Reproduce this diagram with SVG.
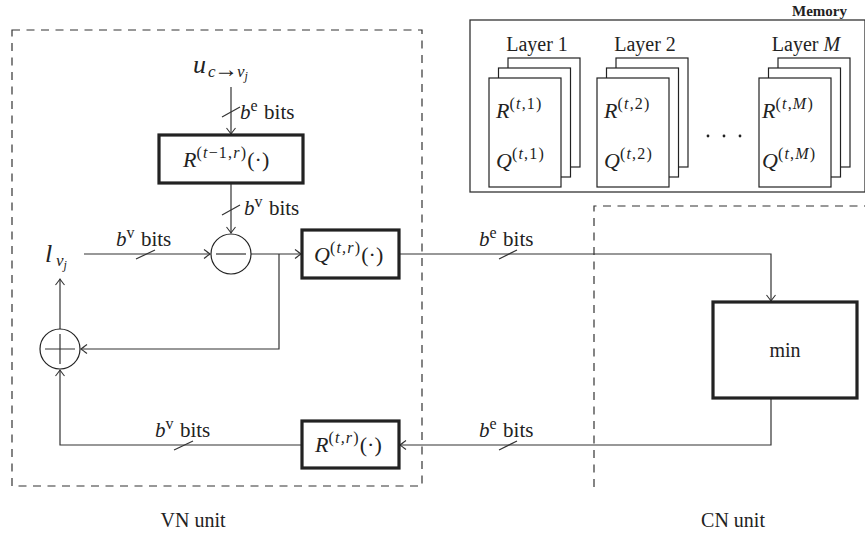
<svg xmlns="http://www.w3.org/2000/svg" width="865" height="541" viewBox="0 0 865 541">
<defs>
<marker id="arr" markerUnits="userSpaceOnUse" markerWidth="12" markerHeight="12" refX="0" refY="0" viewBox="-8 -6 10 12" orient="auto">
<path d="M-6,-4.5 Q-1.5,-1 0,0 Q-1.5,1 -6,4.5" fill="none" stroke="#333" stroke-width="1.1"/>
</marker>
</defs>
<style>
text{font-family:"Liberation Serif","Times New Roman",serif;fill:#222;font-size:20px}
.m{font-size:22px}
.i{font-style:italic}
.s{font-size:16px;letter-spacing:1.2px}
.sub{font-size:17px}
.ss{font-size:12px}
.dash{fill:none;stroke:#333;stroke-width:1.2;stroke-dasharray:8 6.5}
.blk{fill:#fff;stroke:#222;stroke-width:3.2}
.thin{fill:#fff;stroke:#222;stroke-width:1.2}
.ln{fill:none;stroke:#333;stroke-width:1.2}
.a{marker-end:url(#arr)}
.bl{font-size:21px}
</style>
<rect width="865" height="541" fill="#fff"/>

<g id="vn-unit">
<rect class="dash" x="12" y="30" width="410" height="456"/>
<text x="193" y="527" text-anchor="middle">VN unit</text>
</g>
<g id="cn-unit">
<path class="dash" d="M594,487 V206 H866"/>
<text x="733" y="527" text-anchor="middle">CN unit</text>
</g>

<g id="memory">
<rect x="470" y="20" width="395" height="172" fill="#fff" stroke="#333" stroke-width="1.3"/>
<text x="847" y="16" text-anchor="end" font-weight="bold" style="font-size:15px">Memory</text>
<g id="layer1">
<text x="537" y="51" text-anchor="middle">Layer 1</text>
<rect class="thin" x="508" y="58" width="72" height="109"/>
<rect class="thin" x="498.5" y="68" width="72" height="109"/>
<rect class="thin" x="489" y="78" width="72" height="109"/>
<text class="m" x="496" y="118"><tspan class="i">R</tspan><tspan class="s" dy="-9">(</tspan><tspan class="s i">t</tspan><tspan class="s">,1)</tspan></text>
<text class="m" x="496" y="168"><tspan class="i">Q</tspan><tspan class="s" dy="-9">(</tspan><tspan class="s i">t</tspan><tspan class="s">,1)</tspan></text>
</g>
<g id="layer2">
<text x="645" y="51" text-anchor="middle">Layer 2</text>
<rect class="thin" x="616" y="58" width="72" height="109"/>
<rect class="thin" x="606.5" y="68" width="72" height="109"/>
<rect class="thin" x="597" y="78" width="72" height="109"/>
<text class="m" x="604" y="118"><tspan class="i">R</tspan><tspan class="s" dy="-9">(</tspan><tspan class="s i">t</tspan><tspan class="s">,2)</tspan></text>
<text class="m" x="604" y="168"><tspan class="i">Q</tspan><tspan class="s" dy="-9">(</tspan><tspan class="s i">t</tspan><tspan class="s">,2)</tspan></text>
</g>
<g id="dots">
<circle cx="708" cy="136" r="1.4" fill="#222"/>
<circle cx="724" cy="136" r="1.4" fill="#222"/>
<circle cx="740" cy="136" r="1.4" fill="#222"/>
</g>
<g id="layerM">
<text x="806" y="51" text-anchor="middle">Layer <tspan class="i">M</tspan></text>
<rect class="thin" x="778" y="58" width="72" height="109"/>
<rect class="thin" x="768.5" y="68" width="72" height="109"/>
<rect class="thin" x="759" y="78" width="72" height="109"/>
<text class="m" x="762" y="118"><tspan class="i">R</tspan><tspan class="s" dy="-9">(</tspan><tspan class="s i">t</tspan><tspan class="s">,</tspan><tspan class="s i">M</tspan><tspan class="s">)</tspan></text>
<text class="m" x="762" y="168"><tspan class="i">Q</tspan><tspan class="s" dy="-9">(</tspan><tspan class="s i">t</tspan><tspan class="s">,</tspan><tspan class="s i">M</tspan><tspan class="s">)</tspan></text>
</g>
</g>

<g id="connectors">
<path class="ln a" d="M231,87 V134"/>
<path class="ln a" d="M231,183 V233"/>
<path class="ln a" d="M84,254 H210"/>
<path class="ln a" d="M251,254 H301"/>
<path class="ln a" d="M279,254 V349 H81"/>
<path class="ln a" d="M60,329 V279"/>
<path class="ln a" d="M302,445 H60 V370"/>
<path class="ln a" d="M399,254 H771 V301"/>
<path class="ln a" d="M771,398 V445 H400"/>
<g id="slashes" class="ln">
<path d="M222,117 L240,107"/>
<path d="M222,215 L240,205"/>
<path d="M136,259 L155,250"/>
<path d="M174,450 L193,441"/>
<path d="M499,259 L517,250"/>
<path d="M499,450 L517,441"/>
</g>
<g id="bit-labels">
<text class="bl" x="240" y="119"><tspan class="i">b</tspan><tspan class="s" dy="-8">e</tspan><tspan dy="8"> bits</tspan></text>
<text class="bl" x="244" y="215"><tspan class="i">b</tspan><tspan class="s" dy="-8">v</tspan><tspan dy="8"> bits</tspan></text>
<text class="bl" x="116" y="246"><tspan class="i">b</tspan><tspan class="s" dy="-8">v</tspan><tspan dy="8"> bits</tspan></text>
<text class="bl" x="155" y="437"><tspan class="i">b</tspan><tspan class="s" dy="-8">v</tspan><tspan dy="8"> bits</tspan></text>
<text class="bl" x="479" y="246"><tspan class="i">b</tspan><tspan class="s" dy="-8">e</tspan><tspan dy="8"> bits</tspan></text>
<text class="bl" x="479" y="437"><tspan class="i">b</tspan><tspan class="s" dy="-8">e</tspan><tspan dy="8"> bits</tspan></text>
</g>
</g>

<g id="u-input">
<text x="193" y="73"><tspan class="i" style="font-size:26px">u</tspan><tspan class="sub i" dy="4" x="208">c</tspan><tspan class="sub" x="214" style="font-size:24px">→</tspan><tspan class="sub i" x="237">v</tspan><tspan class="i ss" dy="3">j</tspan></text>
</g>
<g id="l-output">
<text x="45" y="262"><tspan class="i" style="font-size:26px">l</tspan><tspan class="sub i" dy="4" x="56">v</tspan><tspan class="i ss" dy="3">j</tspan></text>
</g>
<g id="r-prev">
<rect class="blk" x="159" y="135" width="144" height="48"/>
<text class="m" x="183" y="167"><tspan class="i">R</tspan><tspan class="s" dy="-9">(</tspan><tspan class="s i">t</tspan><tspan class="s">−1,</tspan><tspan class="s i">r</tspan><tspan class="s">)</tspan><tspan dy="9">(·)</tspan></text>
</g>
<g id="minus">
<circle class="thin" cx="231" cy="254" r="20"/>
<path class="ln" d="M216,254 H246"/>
</g>
<g id="q-box">
<rect class="blk" x="302" y="230" width="97" height="48"/>
<text class="m" x="314" y="262"><tspan class="i">Q</tspan><tspan class="s" dy="-9">(</tspan><tspan class="s i">t,r</tspan><tspan class="s">)</tspan><tspan dy="9">(·)</tspan></text>
</g>
<g id="plus">
<circle class="thin" cx="60" cy="349" r="20"/>
<path class="ln" d="M45,349 H75 M60,334 V364"/>
</g>
<g id="r-box">
<rect class="blk" x="302" y="421" width="97" height="47"/>
<text class="m" x="315" y="452"><tspan class="i">R</tspan><tspan class="s" dy="-9">(</tspan><tspan class="s i">t,r</tspan><tspan class="s">)</tspan><tspan dy="9">(·)</tspan></text>
</g>
<g id="min-box">
<rect class="blk" x="713" y="302" width="144" height="96"/>
<text x="785" y="357" text-anchor="middle">min</text>
</g>
</svg>
